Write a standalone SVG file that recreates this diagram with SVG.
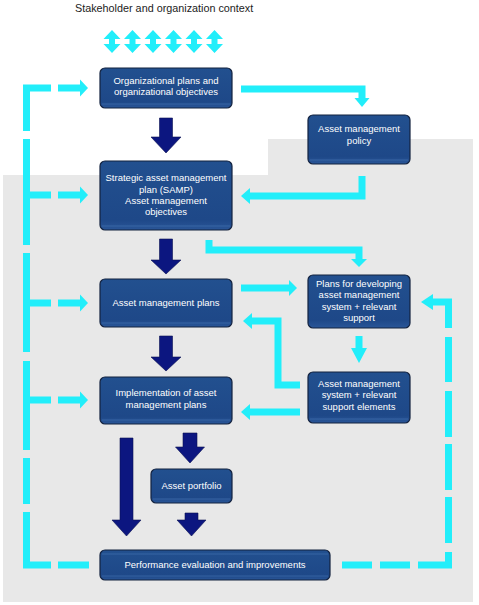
<svg xmlns="http://www.w3.org/2000/svg" xmlns:xlink="http://www.w3.org/1999/xlink" width="479" height="605" viewBox="0 0 479 605">
<style>
.node rect{fill:url(#boxg);stroke:#13223f;stroke-width:1.2}
.node .hl{stroke:#4a78b8;stroke-width:0.8;opacity:0.7}
.node text{font-family:"Liberation Sans",Arial,sans-serif;font-size:9.5px;fill:#ffffff;text-anchor:middle}
.cy{fill:none;stroke:#22eefa;stroke-width:7;stroke-linejoin:miter;stroke-linecap:butt}
.cyh{fill:#22eefa}
.nv{fill:#0c1680;stroke:#0a1050;stroke-width:0.6}
.title{font-family:"Liberation Sans",Arial,sans-serif;font-size:10.8px;fill:#222}
</style>
<defs>
<linearGradient id="boxg" x1="0" y1="0" x2="0" y2="1">
<stop offset="0" stop-color="#22508f"/>
<stop offset="0.85" stop-color="#1e4888"/>
<stop offset="1" stop-color="#2a5698"/>
</linearGradient>
<path id="dbl" class="cyh" d="M0,30 L8.5,39 H3 V44 H8.5 L0,53 L-8.5,44 H-3 V39 H-8.5 Z"/>
</defs>
<rect width="479" height="605" fill="#ffffff"/>
<polygon points="3,175 268,175 268,139 473,139 473,602 3,602" fill="#e8e8e8"/>
<text class="title" x="75" y="11.5">Stakeholder and organization context</text>

<g id="connectors">
<use xlink:href="#dbl" x="112"/>
<use xlink:href="#dbl" x="132.5"/>
<use xlink:href="#dbl" x="153"/>
<use xlink:href="#dbl" x="173.5"/>
<use xlink:href="#dbl" x="194"/>
<use xlink:href="#dbl" x="214.5"/>

<!-- left dashed feedback loop -->
<path class="cy" d="M51,88 H26.5 V131"/>
<path class="cy" d="M26.5,139 V245"/>
<path class="cy" d="M26.5,253 V352"/>
<path class="cy" d="M26.5,361 V450"/>
<path class="cy" d="M26.5,458 V504"/>
<path class="cy" d="M26.5,512 V565 H51"/>
<path class="cy" d="M58,565 H89"/>
<path class="cy" d="M58,88 H80"/><polygon class="cyh" points="80,79.5 88,88 80,96.5"/>
<path class="cy" d="M30,195 H51 M58,195 H80"/><polygon class="cyh" points="80,186.5 88,195 80,203.5"/>
<path class="cy" d="M30,303 H51 M58,303 H80"/><polygon class="cyh" points="80,294.5 88,303 80,311.5"/>
<path class="cy" d="M30,400 H51 M58,400 H80"/><polygon class="cyh" points="80,391.5 88,400 80,408.5"/>

<!-- right dashed feedback loop -->
<path class="cy" d="M342,565 H372 M380,565 H410"/>
<path class="cy" d="M418,565 H448.5 V552"/>
<path class="cy" d="M448.5,543 V497 M448.5,490 V444 M448.5,437 V391 M448.5,382 V337"/>
<path class="cy" d="M448.5,328 V302 H433"/><polygon class="cyh" points="433,294 421,302 433,310"/>

<!-- solid cyan connectors -->
<path class="cy" d="M241,89 H362 V98"/><polygon class="cyh" points="354.5,98 369.5,98 362,107"/>
<path class="cy" d="M362,176 V196 H250"/><polygon class="cyh" points="250,188 250,204 241,196"/>
<path class="cy" d="M209,240 V250 H359 V259"/><polygon class="cyh" points="351,259 367,259 359,267"/>
<path class="cy" d="M241,288 H289"/><polygon class="cyh" points="289,280 289,296 297,288"/>
<path class="cy" d="M300,385 H278 V321 H252"/><polygon class="cyh" points="252,313 252,329 243,321"/>
<path class="cy" d="M359,336 V348"/><polygon class="cyh" points="351,348 367,348 359,363"/>
<path class="cy" d="M300,412 H250"/><polygon class="cyh" points="250,404 250,420 241,412"/>

<!-- navy flow arrows -->
<polygon class="nv" points="159.5,118 172.5,118 172.5,137 181,137 166,153 151,137 159.5,137"/>
<polygon class="nv" points="159.5,239 172.5,239 172.5,260 181,260 166,274 151,260 159.5,260"/>
<polygon class="nv" points="159.5,336 172.5,336 172.5,357 181,357 166,371 151,357 159.5,357"/>
<polygon class="nv" points="183,433 197,433 197,447 204.5,447 190,463 175.5,447 183,447"/>
<polygon class="nv" points="120,438 133,438 133,520 141,520 126.5,536 112,520 120,520"/>
<polygon class="nv" points="185,513 198,513 198,520 206,520 191.5,536 177,520 185,520"/>
</g>

<g id="n-org" class="node">
<rect x="100" y="68" width="132" height="40" rx="5"/>
<line class="hl" x1="102" y1="104" x2="230" y2="104"/>
<text x="166" y="83.5">Organizational plans and</text>
<text x="166" y="95">organizational objectives</text>
</g>
<g id="n-policy" class="node">
<rect x="308" y="115" width="102" height="49" rx="5"/>
<line class="hl" x1="310" y1="160" x2="408" y2="160"/>
<text x="359" y="132">Asset management</text>
<text x="359" y="144">policy</text>
</g>
<g id="n-samp" class="node">
<rect x="100" y="161" width="132" height="69" rx="5"/>
<line class="hl" x1="102" y1="226" x2="230" y2="226"/>
<text x="166" y="181">Strategic asset management</text>
<text x="166" y="192.5">plan (SAMP)</text>
<text x="166" y="203.5">Asset management</text>
<text x="166" y="214.5">objectives</text>
</g>
<g id="n-amp" class="node">
<rect x="100" y="279" width="132" height="48" rx="5"/>
<line class="hl" x1="102" y1="323" x2="230" y2="323"/>
<text x="166" y="305.5">Asset management plans</text>
</g>
<g id="n-plansdev" class="node">
<rect x="308" y="275" width="102" height="53" rx="5"/>
<text x="359" y="286.5">Plans for developing</text>
<text x="359" y="298">asset management</text>
<text x="359" y="309.5">system + relevant</text>
<text x="359" y="321">support</text>
</g>
<g id="n-impl" class="node">
<rect x="100" y="377" width="132" height="47" rx="5"/>
<line class="hl" x1="102" y1="420" x2="230" y2="420"/>
<text x="166" y="396">Implementation of asset</text>
<text x="166" y="407.5">management plans</text>
</g>
<g id="n-ams" class="node">
<rect x="308" y="372" width="102" height="51" rx="5"/>
<line class="hl" x1="310" y1="419" x2="408" y2="419"/>
<text x="359" y="386.5">Asset management</text>
<text x="359" y="398">system + relevant</text>
<text x="359" y="409.5">support elements</text>
</g>
<g id="n-portfolio" class="node">
<rect x="151" y="469" width="81" height="34" rx="5"/>
<line class="hl" x1="153" y1="499" x2="230" y2="499"/>
<text x="191.5" y="489">Asset portfolio</text>
</g>
<g id="n-perf" class="node">
<rect x="100" y="550" width="230" height="30" rx="5"/>
<line class="hl" x1="102" y1="554" x2="328" y2="554"/>
<line class="hl" x1="102" y1="576" x2="328" y2="576"/>
<text x="215" y="567.5">Performance evaluation and improvements</text>
</g>
</svg>
